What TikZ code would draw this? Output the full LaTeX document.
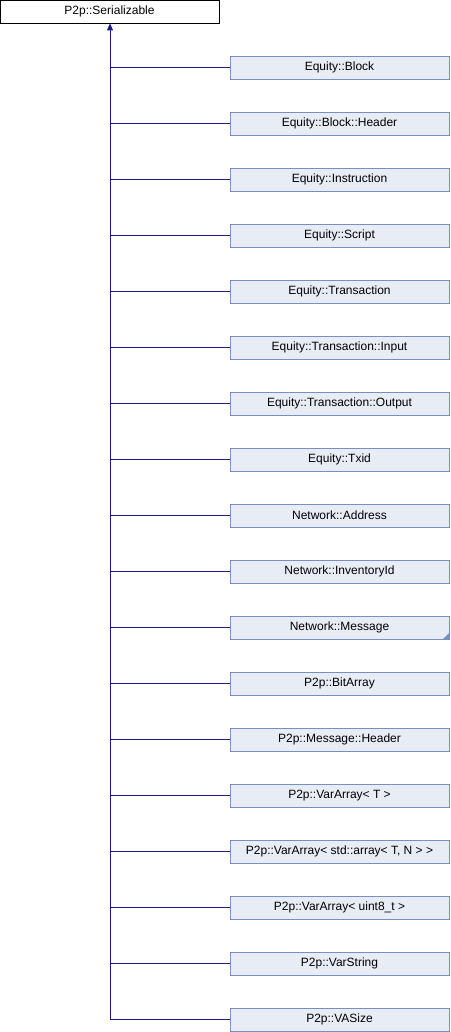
\documentclass[tikz,border=0pt]{standalone}
\usepackage{fontspec}
\setmainfont{Liberation Sans}
\usetikzlibrary{arrows.meta}
\definecolor{boxfill}{RGB}{232,236,245}
\definecolor{boxline}{RGB}{120,144,192}
\definecolor{edgeblue}{RGB}{25,25,140}
\tikzset{
  baseclass/.style={draw=black, fill=white, line width=0.8pt, minimum width=219pt, minimum height=23pt, inner sep=0pt, font=\fontsize{12}{14}\selectfont},
  derived/.style={draw=boxline, fill=boxfill, line width=0.8pt, minimum width=219pt, minimum height=23pt, inner sep=0pt, font=\fontsize{12}{14}\selectfont},
  inherit/.style={edgeblue, line width=0.8pt}
}
\begin{document}
\begin{tikzpicture}[x=1pt, y=-1pt]
    \useasboundingbox (0,0) rectangle (450,1032);

    % Base class
    \node[baseclass] (serializable) at (109.5,11.5) {P2p::Serializable};

    % Derived classes, one row every 56px
    \foreach \name/\txt [count=\i] in {
        block/Equity::Block,
        blockheader/Equity::Block::Header,
        instruction/Equity::Instruction,
        script/Equity::Script,
        transaction/Equity::Transaction,
        txinput/Equity::Transaction::Input,
        txoutput/Equity::Transaction::Output,
        txid/Equity::Txid,
        address/Network::Address,
        inventoryid/Network::InventoryId,
        message/Network::Message,
        bitarray/P2p::BitArray,
        msgheader/P2p::Message::Header,
        vararray/P2p::VarArray< T >,
        vararraystd/P2p::VarArray< std::array< T{,} N > >,
        vararrayuint/P2p::VarArray< uint8\_t >,
        varstring/P2p::VarString,
        vasize/P2p::VASize}
    {
        \node[derived] (\name) at (339.5,{11.5+56*\i}) {\txt};
        \coordinate (j\name) at (110,{11.5+56*\i});
        \draw[inherit] (j\name) -- (\name.west);
    }

    % Collapsed subclasses marker
    \fill[boxline] ([xshift=-0.4pt,yshift=0.4pt]message.south east) -- ++(0,-6) -- ++(-6,6) -- cycle;

    % Trunk up to the base class
    \draw[inherit, -{Triangle[length=7pt,width=6pt]}] (jvasize) -- (jvasize |- serializable.south);
\end{tikzpicture}
\end{document}
